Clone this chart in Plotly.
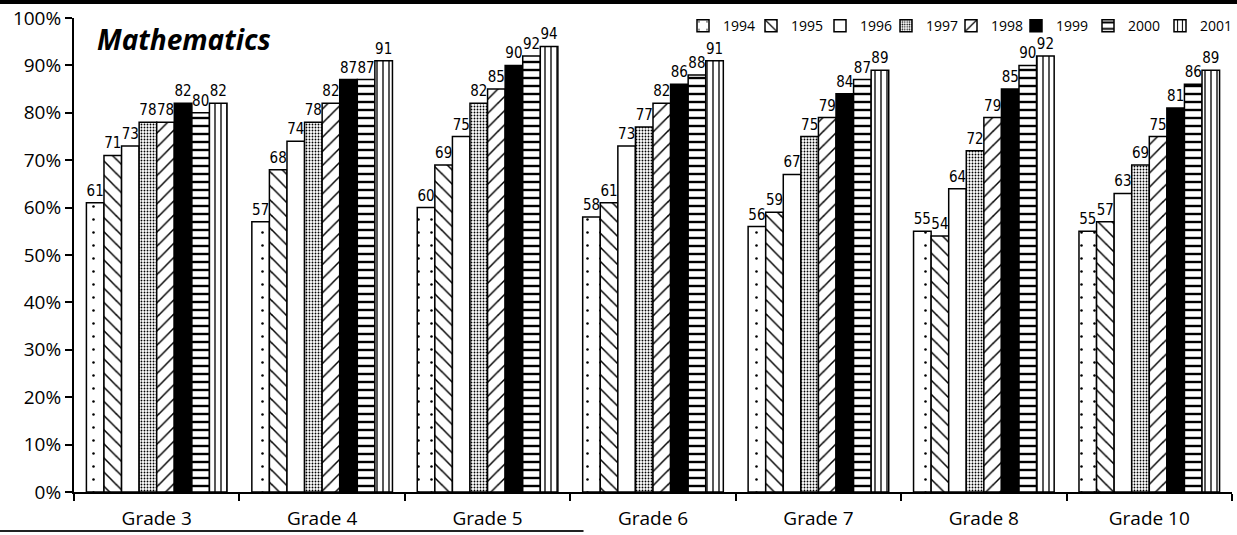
import plotly.graph_objects as go

grades = ["Grade 3", "Grade 4", "Grade 5", "Grade 6", "Grade 7", "Grade 8", "Grade 10"]
years = ["1994", "1995", "1996", "1997", "1998", "1999", "2000", "2001"]

v1994 = [61, 57, 60, 58, 56, 55, 55]
v1995 = [71, 68, 69, 61, 59, 54, 57]
v1996 = [73, 74, 75, 73, 67, 64, 63]
v1997 = [78, 78, 82, 77, 75, 72, 69]
v1998 = [78, 82, 85, 82, 79, 79, 75]
v1999 = [82, 87, 90, 86, 84, 85, 81]
v2000 = [80, 87, 92, 88, 87, 90, 86]
v2001 = [82, 91, 94, 91, 89, 92, 89]

series = [v1994, v1995, v1996, v1997, v1998, v1999, v2000, v2001]

patterns = [
    dict(shape=".", size=13, solidity=0.03),
    dict(shape="\\", size=10, solidity=0.15),
    dict(shape="", size=8, solidity=0.2),
    dict(shape=".", size=3, solidity=0.3),
    dict(shape="/", size=10, solidity=0.15),
    dict(shape="", size=8, solidity=0.2),
    dict(shape="-", size=8, solidity=0.3),
    dict(shape="|", size=6, solidity=0.22),
]
fills = ["white", "white", "white", "white", "white", "black", "white", "white"]

# left pixel edge of each legend swatch in the reference
legend_px = [695, 763, 832, 898, 963, 1028, 1100, 1172]

PLOT_L, PLOT_W = 74, 1158

fig = go.Figure()
legend_layout = {}
for i, (yr, vals, pat, col) in enumerate(zip(years, series, patterns, fills)):
    lname = "legend" if i == 0 else f"legend{i + 1}"
    fig.add_trace(go.Bar(
        name=yr, x=grades, y=vals,
        text=[str(v) for v in vals],
        textposition="outside",
        textfont=dict(family="Liberation Sans Narrow, DejaVu Sans Condensed, Roboto", size=15, color="black"),
        cliponaxis=False,
        constraintext="none",
        legend=lname,
        marker=dict(color=col, line=dict(color="black", width=1.5),
                    pattern=dict(shape=pat["shape"], size=pat["size"], solidity=pat["solidity"],
                                 fgcolor="black", bgcolor=col, fillmode="replace")),
    ))
    legend_layout[lname] = dict(
        orientation="h", x=(legend_px[i] - 12 - PLOT_L) / PLOT_W, xanchor="left",
        y=0.983, yanchor="middle", font=dict(size=14, family="Open Sans"),
        bgcolor="rgba(0,0,0,0)", itemwidth=30)

fig.update_layout(
    width=1237, height=535,
    margin=dict(l=74, r=5, t=18, b=43, autoexpand=False),
    paper_bgcolor="white", plot_bgcolor="white",
    barmode="group", bargap=0.15, bargroupgap=0.0,
    font=dict(family="Open Sans", color="black"),
    showlegend=True,
    xaxis=dict(showgrid=False, showline=True, linecolor="black", linewidth=2, automargin=False,
               ticks="outside", tickson="boundaries", ticklen=7, tickwidth=2, tickcolor="black",
               tickfont=dict(size=19, family="Open Sans"), ticklabelstandoff=8),
    yaxis=dict(range=[0, 100], dtick=10, ticksuffix="%", showgrid=False, showline=True, automargin=False,
               linecolor="black", linewidth=2, ticks="outside", ticklen=7, tickwidth=2,
               tickcolor="black", tickfont=dict(size=19, family="Open Sans"), zeroline=False),
    annotations=[dict(text="<b><i>Mathematics</i></b>", xref="paper", yref="paper",
                      x=0.018, y=0.955, xanchor="left", yanchor="middle", showarrow=False,
                      font=dict(size=28, family="Open Sans", color="black"))],
    shapes=[
        dict(type="rect", xref="paper", yref="paper", x0=-0.07, x1=1.01, y0=1.0 + 14/474, y1=1.0 + 18/474,
             fillcolor="black", line=dict(width=0)),
        dict(type="line", xref="paper", yref="paper", x0=-0.07, x1=0.44, y0=-39/474, y1=-39/474,
             line=dict(color="#222", width=2)),
    ],
    **legend_layout,
)

fig.write_html("out.html", config={"displayModeBar": False},
               post_script="document.body.style.margin='0px';")
